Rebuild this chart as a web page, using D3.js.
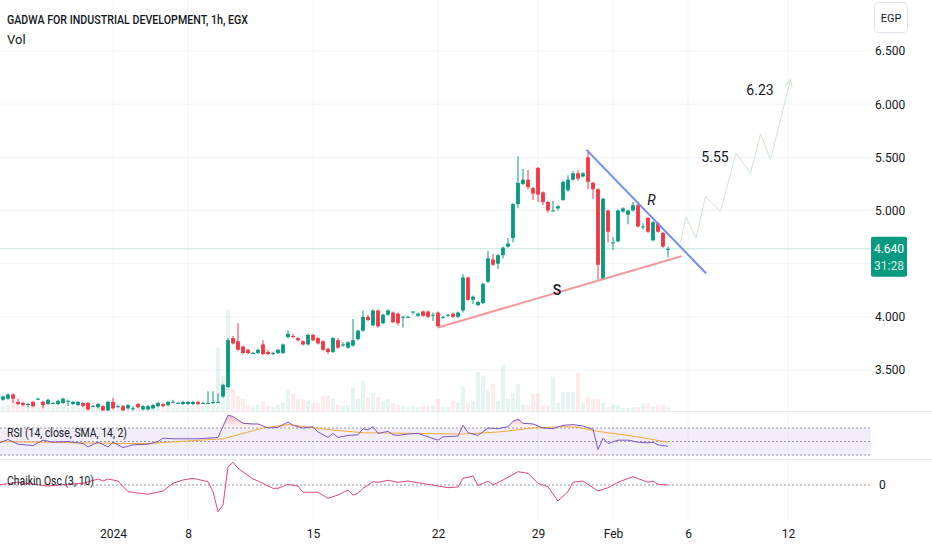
<!DOCTYPE html>
<html>
<head>
<meta charset="utf-8">
<script src="https://cdn.jsdelivr.net/npm/d3@7"></script>
<style>
body { margin: 0; background: #fff; }
svg { display: block; font-family: Roboto, "Liberation Sans", sans-serif; }
</style>
</head>
<body>
<div id="chart"></div>
<script>
// hourly candles, bar index 0..134
const opens = [3.16,3.22,3.23,3.27,3.20,3.19,3.17,3.20,3.23,3.20, 3.18,3.19,3.18,3.19,3.21,3.18,3.17,3.19,3.19,3.16,
  3.15,3.16,3.12,3.20,3.16,3.16,3.14,3.14,3.18,3.13, 3.13,3.14,3.16,3.18,3.17,3.20,3.19,3.18,3.18,3.18,
  3.20,3.19,3.19,3.19,3.20,3.25,3.34,3.80,3.77,3.72, 3.69,3.66,3.66,3.74,3.67,3.66,3.66,3.66,3.81,3.82,
  3.80,3.77,3.74,3.83,3.80,3.77,3.70,3.67,3.78,3.74, 3.71,3.73,3.79,3.87,4.00,3.92,4.06,3.94,4.02,4.04,
  4.03,4.00,4.00,4.05,4.01,4.05,4.05,4.02,4.04,3.99, 4.02,4.03,4.00,4.06,4.37,4.16,4.11,4.13,4.33,4.54,
  4.50,4.58,4.66,4.74,5.06,5.25,5.29,5.21,5.40,5.17, 5.08,5.00,5.02,5.10,5.19,5.29,5.35,5.32,5.50,5.26,
  5.20,4.35,5.00,4.70,4.71,4.99,4.96,5.00,5.05,4.85, 4.93,4.72,4.88,4.79,4.63];
const highs = [3.17,3.26,3.28,3.28,3.23,3.20,3.19,3.21,3.24,3.21, 3.23,3.20,3.22,3.24,3.22,3.21,3.21,3.20,3.20,3.17,
  3.19,3.17,3.21,3.24,3.17,3.17,3.18,3.16,3.19,3.17, 3.17,3.18,3.20,3.19,3.21,3.22,3.20,3.21,3.21,3.21,
  3.21,3.20,3.30,3.30,3.28,3.37,3.80,3.82,3.94,3.73, 3.70,3.67,3.70,3.78,3.69,3.67,3.70,3.75,3.87,3.84,
  3.81,3.78,3.84,3.84,3.81,3.78,3.71,3.81,3.80,3.76, 3.77,3.98,3.88,4.06,4.02,4.07,4.07,4.03,4.07,4.05,
  4.04,4.01,4.01,4.05,4.04,4.06,4.06,4.04,4.05,4.01, 4.03,4.04,4.05,4.40,4.38,4.20,4.15,4.32,4.62,4.59,
  4.59,4.66,4.74,5.07,5.51,5.39,5.38,5.22,5.41,5.18, 5.09,5.09,5.05,5.28,5.33,5.37,5.38,5.36,5.57,5.27,
  5.21,5.12,5.01,4.75,5.01,5.03,5.01,5.08,5.06,4.88, 4.94,4.90,4.89,4.80,4.66];
const lows = [3.15,3.21,3.22,3.19,3.17,3.16,3.15,3.15,3.22,3.14, 3.17,3.18,3.17,3.18,3.16,3.17,3.16,3.15,3.12,3.15,
  3.14,3.11,3.11,3.13,3.15,3.11,3.13,3.12,3.14,3.12, 3.12,3.13,3.15,3.15,3.16,3.19,3.18,3.17,3.17,3.17,
  3.17,3.18,3.18,3.18,3.19,3.24,3.33,3.74,3.68,3.65, 3.65,3.65,3.65,3.64,3.64,3.64,3.65,3.65,3.80,3.80,
  3.77,3.73,3.73,3.77,3.74,3.68,3.65,3.66,3.70,3.72, 3.70,3.72,3.78,3.86,3.96,3.91,3.90,3.93,4.01,3.94,
  3.92,3.90,3.99,4.02,4.00,4.00,3.99,3.96,3.90,3.98, 4.00,3.99,3.99,4.04,4.15,4.12,4.10,4.12,4.32,4.48,
  4.45,4.55,4.65,4.70,5.02,5.24,5.20,5.10,5.08,5.05, 4.98,4.99,5.00,5.09,5.18,5.28,5.28,5.31,5.20,5.11,
  4.35,4.35,4.70,4.63,4.70,4.98,4.87,4.99,4.84,4.82, 4.79,4.71,4.79,4.65,4.56];
const closes = [3.16,3.25,3.27,3.23,3.18,3.17,3.18,3.16,3.23,3.17, 3.22,3.19,3.21,3.23,3.21,3.20,3.20,3.16,3.13,3.16,
  3.18,3.12,3.20,3.14,3.16,3.12,3.17,3.14,3.15,3.16, 3.16,3.17,3.19,3.16,3.20,3.20,3.19,3.20,3.20,3.20,
  3.18,3.19,3.19,3.20,3.20,3.36,3.78,3.75,3.69,3.66, 3.66,3.66,3.69,3.65,3.65,3.66,3.69,3.74,3.84,3.81,
  3.78,3.74,3.83,3.78,3.75,3.69,3.67,3.80,3.71,3.74, 3.76,3.78,3.87,4.00,3.97,4.06,3.91,4.02,4.06,3.95,
  3.94,4.00,4.00,4.05,4.03,4.01,4.00,4.02,3.91,4.00, 4.02,4.00,4.04,4.37,4.16,4.19,4.14,4.31,4.55,4.49,
  4.58,4.65,4.69,5.06,5.26,5.29,5.22,5.16,5.15,5.08, 5.00,5.00,5.04,5.27,5.29,5.35,5.30,5.35,5.27,5.20,
  4.49,5.11,4.80,4.70,5.00,5.02,5.00,5.05,4.85,4.85, 4.80,4.89,4.80,4.66,4.64];
// volume, thousand shares
const volumes = [80,100,120,200,160,120,80,100,80,120, 100,60,80,100,60,80,60,80,120,60,
  80,100,180,160,80,120,60,60,100,80, 80,80,100,60,120,60,60,80,60,60,
  80,60,160,200,1260,700,2000,440,300,240, 120,100,120,180,100,80,120,160,440,340,
  240,240,200,160,160,300,300,240,120,100, 120,460,240,600,260,360,280,200,240,160,
  120,100,80,100,80,100,100,120,240,80, 80,200,160,480,160,200,780,700,400,540,
  200,920,240,340,540,120,120,340,340,120, 100,680,160,380,380,380,760,160,280,240,
  240,160,80,120,120,60,60,80,80,160, 160,80,120,120,80];

// RSI(14) and its SMA, read as [bar, value]
const rsiPts = [[0,47],[2,53],[4,46],[7,44],[9,52],[11,49],[14,50],[17,47],[18,42],[20,49],[22,42],[23,49],
  [25,41],[27,45],[30,46],[32,50],[33,55],[35,54],[40,54],[44,56],[46,89],[47,87],[49,77],[51,76],[52,76],
  [54,70],[56,71],[58,79],[59,74],[61,70],[63,72],[64,64],[66,56],[67,62],[68,56],[70,59],[72,60],[73,69],
  [74,67],[75,72],[76,62],[78,65],[79,60],[80,59],[82,61],[84,62],[86,57],[88,52],[89,57],[92,58],[93,74],
  [94,63],[96,59],[98,70],[100,69],[102,72],[103,80],[104,83],[105,77],[107,76],[109,70],[111,69],[113,74],
  [115,75],[117,73],[119,68],[120,38],[121,55],[122,47],[124,52],[126,52],[128,49],[130,48],[131,49],[132,45],[134,43]];
const rsiSmaPts = [[0,50],[25,47],[30,47],[45,54],[53,70],[58,75],[67,67],[73,63],[93,61],[100,64],
  [107,70],[113,72],[116,71],[120,65],[127,58],[134,49]];
// Chaikin oscillator (3, 10)
const chaikinPts = [[0,0],[4,27],[10,-10],[14,7],[17,17],[20,60],[21,40],[22,60],[24,40],[26,-67],[30,-93],
  [33,-60],[35,17],[37,50],[39,67],[42,33],[43,-67],[44,-267],[45,-200],[46,183],[47,227],[48,167],[51,60],
  [52,40],[55,-33],[56,-33],[58,7],[60,-10],[61,-73],[64,-73],[66,-133],[68,-100],[70,-50],[71,-100],
  [72,-83],[73,-33],[75,33],[76,27],[78,47],[80,27],[82,40],[86,7],[90,-27],[92,-20],[93,67],[95,90],
  [96,-7],[98,40],[99,0],[101,50],[104,133],[106,117],[108,17],[110,-17],[112,-160],[114,-67],[115,27],
  [117,40],[120,-60],[122,-27],[124,27],[127,83],[130,27],[131,40],[132,7],[134,0]];

// drawings
const supportLine = [[88,3.90],[136.7,4.57]];
const resistLine = [[117.7,5.57],[141.6,4.41]];
const projection = [[136.5,4.70],[137.6,4.94],[139.6,4.74],[141.5,5.13],[144.5,4.99],[147.6,5.54],
  [150.5,5.35],[152.5,5.72],[154.5,5.48],[158.5,6.23]];
const targets = [{ i: 143.4, p: 5.55, dy: 5 }, { i: 152.4, p: 6.23, dy: 10 }];

const priceTicks = [3.5, 4.0, 5.0, 5.5, 6.0, 6.5];
const gridPrices = [3.5, 4.0, 4.5, 5.0, 5.5, 6.0, 6.5];
const dateTickIdx = [23, 38, 63, 88, 108, 123, 138, 158];
const dateTickLabels = ["2024", "8", "15", "22", "29", "Feb", "6", "12"];
const lastPrice = 4.64;

const W = 932, H = 550;
const plotRight = 871;
const paneBottom = 411, rsiBottom = 459, oscBottom = 520;
const up = "#089981", down = "#f23645";

const svg = d3.select("#chart").append("svg").attr("width", W).attr("height", H);
svg.append("rect").attr("width", W).attr("height", H).attr("fill", "#fff");
const defs = svg.append("defs");

const x = d3.scaleLinear().domain([0, 134]).range([-2, 668]);
const y = d3.scaleLinear().domain([3.5, 6.5]).range([370, 51]);
const yVol = d3.scaleLinear().domain([0, 2000]).range([paneBottom, 310]);
const yRsi = d3.scaleLinear().domain([30, 70]).range([455, 428]);
const yOsc = d3.scaleLinear().domain([-300, 300]).range([515, 455]);

defs.append("clipPath").attr("id", "clip-price")
    .append("rect").attr("x", 0).attr("y", 0).attr("width", plotRight).attr("height", paneBottom);
defs.append("clipPath").attr("id", "clip-rsi")
    .append("rect").attr("x", 0).attr("y", paneBottom).attr("width", plotRight).attr("height", rsiBottom - paneBottom);
defs.append("clipPath").attr("id", "clip-ob")
    .append("rect").attr("x", 0).attr("y", paneBottom).attr("width", plotRight).attr("height", yRsi(70) - paneBottom);
defs.append("clipPath").attr("id", "clip-osc")
    .append("rect").attr("x", 0).attr("y", rsiBottom).attr("width", plotRight).attr("height", oscBottom - rsiBottom);

const grad = defs.append("linearGradient").attr("id", "ob-grad")
    .attr("gradientUnits", "userSpaceOnUse").attr("x1", 0).attr("x2", 0).attr("y1", paneBottom).attr("y2", yRsi(70));
grad.append("stop").attr("offset", 0).attr("stop-color", "rgba(242,54,69,0.45)");
grad.append("stop").attr("offset", 1).attr("stop-color", "rgba(242,54,69,0.03)");

defs.append("marker").attr("id", "arrow")
    .attr("viewBox", "0 0 8 8").attr("refX", 7).attr("refY", 4)
    .attr("markerWidth", 8).attr("markerHeight", 8).attr("markerUnits", "userSpaceOnUse")
    .attr("orient", "auto")
    .append("path").attr("d", "M0,0.5 L7,4 L0,7.5")
    .attr("fill", "none").attr("stroke", "#c9dfc8").attr("stroke-width", 1);

// grid
const grid = svg.append("g");
grid.selectAll(".hg").data(gridPrices).enter().append("line")
    .attr("x1", 0).attr("x2", plotRight)
    .attr("y1", d => y(d)).attr("y2", d => y(d))
    .attr("stroke", "#f0f3fa");
grid.selectAll(".vg").data(dateTickIdx).enter().append("line")
    .attr("x1", d => x(d)).attr("x2", d => x(d))
    .attr("y1", 0).attr("y2", oscBottom)
    .attr("stroke", "#f3f5fa");

// pane separators
svg.append("line").attr("x1", 0).attr("x2", W).attr("y1", paneBottom + 0.5).attr("y2", paneBottom + 0.5).attr("stroke", "#e9ebf0");
svg.append("line").attr("x1", 0).attr("x2", W).attr("y1", rsiBottom + 0.5).attr("y2", rsiBottom + 0.5).attr("stroke", "#e9ebf0");

const price = svg.append("g").attr("clip-path", "url(#clip-price)");
const bars = d3.range(opens.length);

// volume
price.selectAll(".vol").data(bars).enter().append("rect")
    .attr("x", i => x(i) - 2).attr("width", 4)
    .attr("y", i => yVol(volumes[i]))
    .attr("height", i => paneBottom - yVol(volumes[i]))
    .attr("fill", i => closes[i] >= opens[i] ? "rgba(8,153,129,0.1)" : "rgba(242,54,69,0.1)");

// last price line
price.append("line")
    .attr("x1", 0).attr("x2", plotRight)
    .attr("y1", y(lastPrice)).attr("y2", y(lastPrice))
    .attr("stroke", "rgba(8,153,129,0.25)").attr("stroke-width", 1);

// candles
const candle = price.selectAll(".candle").data(bars).enter().append("g");
candle.append("line")
    .attr("x1", i => x(i)).attr("x2", i => x(i))
    .attr("y1", i => y(highs[i])).attr("y2", i => y(lows[i]))
    .attr("stroke", i => closes[i] >= opens[i] ? up : down).attr("stroke-width", 1);
candle.append("rect")
    .attr("x", i => x(i) - 1.9).attr("width", 3.8)
    .attr("y", i => y(Math.max(opens[i], closes[i])))
    .attr("height", i => Math.max(1, Math.abs(y(opens[i]) - y(closes[i]))))
    .attr("fill", i => closes[i] >= opens[i] ? up : down);

// drawings
const lineXY = d3.line().x(d => x(d[0])).y(d => y(d[1]));
price.append("path").attr("d", lineXY(supportLine))
    .attr("fill", "none").attr("stroke", "#f4999b").attr("stroke-width", 2);
price.append("path").attr("d", lineXY(resistLine))
    .attr("fill", "none").attr("stroke", "#6f8fe6").attr("stroke-width", 2);
price.append("path").attr("d", lineXY(projection))
    .attr("fill", "none").attr("stroke", "#d0e4cf").attr("stroke-width", 1)
    .attr("marker-end", "url(#arrow)");

price.selectAll(".target").data(targets).enter().append("text")
    .attr("x", d => x(d.i)).attr("y", d => y(d.p) + d.dy)
    .attr("dy", "0.35em").attr("text-anchor", "middle")
    .attr("font-size", 14).attr("fill", "#131722")
    .text(d => d.p.toFixed(2));

price.append("text").attr("x", x(111.8)).attr("y", y(4.25)).attr("dy", "0.35em")
    .attr("text-anchor", "middle").attr("font-size", 14).attr("font-weight", 500).attr("fill", "#131722").text("S");
price.append("text").attr("x", x(130.7)).attr("y", y(5.10)).attr("dy", "0.35em")
    .attr("text-anchor", "middle").attr("font-size", 14).attr("font-style", "italic")
    .attr("fill", "#131722").text("R");

// RSI pane
const rsi = svg.append("g").attr("clip-path", "url(#clip-rsi)");
rsi.append("rect").attr("x", 0).attr("width", plotRight)
    .attr("y", yRsi(70)).attr("height", yRsi(30) - yRsi(70))
    .attr("fill", "rgba(126,87,194,0.1)");
rsi.selectAll(".lvl").data([70, 50, 30]).enter().append("line")
    .attr("x1", 0).attr("x2", plotRight)
    .attr("y1", d => yRsi(d)).attr("y2", d => yRsi(d))
    .attr("stroke", "#9598a1").attr("stroke-dasharray", "2,2").attr("stroke-width", 1);
rsi.append("path")
    .attr("clip-path", "url(#clip-ob)")
    .attr("d", d3.area().x(d => x(d[0])).y0(yRsi(70)).y1(d => yRsi(d[1]))(rsiPts))
    .attr("fill", "url(#ob-grad)");
rsi.append("path")
    .attr("d", d3.line().x(d => x(d[0])).y(d => yRsi(d[1]))(rsiSmaPts))
    .attr("fill", "none").attr("stroke", "#f5a93a").attr("stroke-width", 1);
rsi.append("path")
    .attr("d", d3.line().x(d => x(d[0])).y(d => yRsi(d[1]))(rsiPts))
    .attr("fill", "none").attr("stroke", "#7e57c2").attr("stroke-width", 1);

// Chaikin pane
const osc = svg.append("g").attr("clip-path", "url(#clip-osc)");
osc.append("line").attr("x1", 0).attr("x2", plotRight)
    .attr("y1", yOsc(0)).attr("y2", yOsc(0))
    .attr("stroke", "#9598a1").attr("stroke-dasharray", "2,2");
osc.append("path")
    .attr("d", d3.line().x(d => x(d[0])).y(d => yOsc(d[1]))(chaikinPts))
    .attr("fill", "none").attr("stroke", "#e0457b").attr("stroke-width", 1);

// price axis
const yAxis = svg.append("g").attr("transform", `translate(875,0)`)
    .call(d3.axisRight(y).tickValues(priceTicks).tickSize(0).tickPadding(0).tickFormat(d3.format(".3f")));
yAxis.select(".domain").remove();
yAxis.selectAll("text").attr("font-size", 12).attr("fill", "#131722").attr("font-family", "Roboto, sans-serif");

svg.append("text").attr("x", 879).attr("y", yOsc(0)).attr("dy", "0.35em")
    .attr("font-size", 12).attr("fill", "#131722").text("0");

// time axis
const xAxis = svg.append("g").attr("transform", `translate(0,529)`)
    .call(d3.axisBottom(x).tickValues(dateTickIdx).tickSize(0).tickPadding(0)
        .tickFormat((d, i) => dateTickLabels[i]));
xAxis.select(".domain").remove();
xAxis.selectAll("text").attr("font-size", 12).attr("fill", "#131722").attr("font-family", "Roboto, sans-serif");

// currency box
svg.append("rect").attr("x", 874.5).attr("y", 2.5).attr("width", 33).attr("height", 30).attr("rx", 4)
    .attr("fill", "#fff").attr("stroke", "#e0e3eb");
svg.append("text").attr("x", 891).attr("y", 18).attr("dy", "0.35em").attr("text-anchor", "middle")
    .attr("font-size", 11).attr("fill", "#131722").text("EGP");

// last price label
const py = y(lastPrice);
svg.append("rect").attr("x", 871).attr("y", py - 12).attr("width", 36).attr("height", 40).attr("rx", 2)
    .attr("fill", up);
svg.append("text").attr("x", 889).attr("y", py).attr("dy", "0.35em").attr("text-anchor", "middle")
    .attr("font-size", 12).attr("fill", "#fff").text(lastPrice.toFixed(3));
svg.append("text").attr("x", 889).attr("y", py + 17).attr("dy", "0.35em").attr("text-anchor", "middle")
    .attr("font-size", 12).attr("fill", "rgba(255,255,255,0.85)").text("31:28");

// legends
svg.append("text").attr("x", 7).attr("y", 24).attr("font-size", 13).attr("font-weight", 500)
    .attr("textLength", 241).attr("lengthAdjust", "spacingAndGlyphs")
    .attr("fill", "#131722").text("GADWA FOR INDUSTRIAL DEVELOPMENT, 1h, EGX");
svg.append("text").attr("x", 7).attr("y", 44).attr("font-size", 13)
    .attr("fill", "#131722").text("Vol");
svg.append("text").attr("x", 7).attr("y", 437).attr("font-size", 13)
    .attr("textLength", 120).attr("lengthAdjust", "spacingAndGlyphs")
    .attr("fill", "#131722").text("RSI (14, close, SMA, 14, 2)");
svg.append("text").attr("x", 7).attr("y", 485).attr("font-size", 13)
    .attr("textLength", 87).attr("lengthAdjust", "spacingAndGlyphs")
    .attr("fill", "#131722").text("Chaikin Osc (3, 10)");
</script>
</body>
</html>
